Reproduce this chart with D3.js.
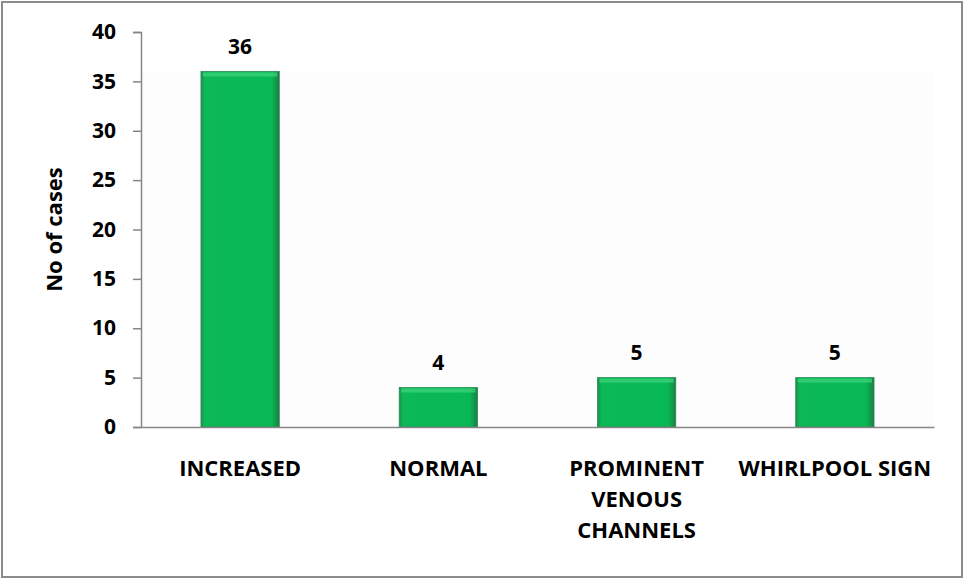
<!DOCTYPE html>
<html><head><meta charset="utf-8">
<script src="https://cdn.jsdelivr.net/npm/d3@7"></script>
<style>body{margin:0;background:#fff}svg{display:block}text{font-family:"Open Sans",sans-serif;font-weight:bold;fill:#000}</style>
</head><body>
<svg id="c" width="964" height="579"></svg>
<script>
const categories = [["INCREASED"], ["NORMAL"], ["PROMINENT", "VENOUS", "CHANNELS"], ["WHIRLPOOL SIGN"]];
const values = [36, 4, 5, 5];
const yTicks = [0, 5, 10, 15, 20, 25, 30, 35, 40];
const yTitle = "No of cases";

const svg = d3.select("#c");
const W = 964, H = 579;
const m = {l: 141, r: 30, t: 32, b: 152};
svg.append("rect").attr("x", 2).attr("y", 2).attr("width", W - 4).attr("height", H - 4)
  .attr("fill", "#fff").attr("stroke", "#8c8c8c").attr("stroke-width", 2);

const x = d3.scaleBand().domain(d3.range(categories.length)).range([m.l, W - m.r])
  .paddingInner(0.605).paddingOuter(0.3025);
const y = d3.scaleLinear().domain([0, 40]).range([H - m.b, m.t]);

svg.append("rect").attr("x", m.l).attr("y", y(36)).attr("width", W - m.r - m.l).attr("height", y(0) - y(36)).attr("fill", "#fdfdfe");

const defs = svg.append("defs");
const g1 = defs.append("linearGradient").attr("id", "bar").attr("x1", 0).attr("x2", 1).attr("y1", 0).attr("y2", 0);
g1.append("stop").attr("offset", "0").attr("stop-color", "#1d8f4a");
g1.append("stop").attr("offset", "0.05").attr("stop-color", "#0cb857");
g1.append("stop").attr("offset", "0.9").attr("stop-color", "#08b855");
g1.append("stop").attr("offset", "1").attr("stop-color", "#1e7d45");

const bars = svg.append("g");
values.forEach((v, i) => {
  const bx = x(i), bw = x.bandwidth(), by = y(v), bh = y(0) - y(v);
  bars.append("rect").attr("x", bx).attr("y", by).attr("width", bw).attr("height", bh)
    .attr("fill", "url(#bar)").attr("stroke", "#2a8a52").attr("stroke-width", 0.8);
  bars.append("rect").attr("x", bx + 2).attr("y", by + 1).attr("width", bw - 4).attr("height", 4)
    .attr("fill", "#3fd67e").attr("opacity", 0.7);
  bars.append("text").attr("x", bx + bw / 2).attr("y", y(v) - 18).attr("text-anchor", "middle")
    .attr("font-size", 21).text(v);
});

const yAxis = svg.append("g").attr("transform", `translate(${m.l},0)`)
  .call(d3.axisLeft(y).tickValues(yTicks).tickSize(8).tickPadding(17));
yAxis.select(".domain").attr("stroke", "#868686").attr("stroke-width", 1.5);
yAxis.selectAll(".tick line").attr("stroke", "#868686").attr("stroke-width", 1.5);
yAxis.selectAll(".tick text").attr("font-size", 21).attr("font-family", "Open Sans").attr("font-weight", "bold").attr("fill", "#000");

const xAxis = svg.append("g").attr("transform", `translate(0,${y(0)})`)
  .call(d3.axisBottom(x).tickSize(0).tickFormat(""));
xAxis.select(".domain").attr("stroke", "#868686").attr("stroke-width", 1.5);

categories.forEach((lines, i) => {
  const t = svg.append("text").attr("x", x(i) + x.bandwidth() / 2).attr("y", 476)
    .attr("text-anchor", "middle").attr("font-size", 22);
  lines.forEach((ln, j) => t.append("tspan").attr("x", x(i) + x.bandwidth() / 2).attr("dy", j ? 31 : 0).text(ln));
});

svg.append("text").attr("transform", `translate(62,${(y(0) + y(40)) / 2}) rotate(-90)`)
  .attr("text-anchor", "middle").attr("font-size", 22).text(yTitle);
</script>
</body></html>
